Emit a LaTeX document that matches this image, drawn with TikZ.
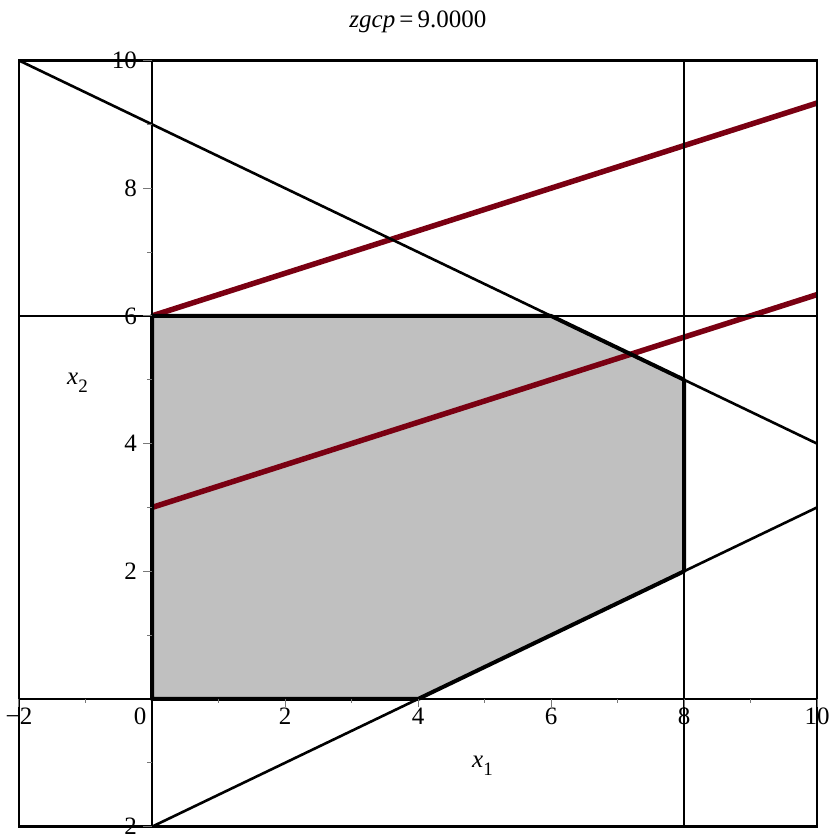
\documentclass[tikz,border=0pt]{standalone}
\usepackage{fontspec}
\setmainfont{Liberation Serif}
\definecolor{burg}{RGB}{122,0,18}
\definecolor{regfill}{RGB}{192,192,192}
\definecolor{tickgray}{RGB}{120,120,120}
\begin{document}
\begin{tikzpicture}[x=66.5pt,y=63.85pt,
  thinblack/.style={line width=2.6pt,black},
  redline/.style={line width=5.5pt,burg},
  tickmark/.style={line width=1pt,tickgray},
  lab/.style={font=\fontsize{25}{30}\selectfont,inner sep=0pt},
  sublab/.style={font=\fontsize{19}{22}\selectfont,inner sep=0pt}]
\useasboundingbox (-2.2857,-2.1613) rectangle (10.2857,10.9475);
% corners of the feasible region
\coordinate (A) at (0,0);
\coordinate (B) at (4,0);
\coordinate (C) at (8,2);
\coordinate (D) at (8,5);
\coordinate (E) at (6,6);
\coordinate (F) at (0,6);
\fill[regfill] (A)--(B)--(C)--(D)--(E)--(F)--cycle;
% objective lines
\draw[redline] (0,6)--(10,28/3);
\draw[redline] (0,3)--(10,19/3);
% constraint lines
\draw[thinblack] (-2,10)--(10,4);
\draw[thinblack] (0,-2)--(10,3);
\draw[thinblack] (-2,6)--(10,6);
\draw[thinblack] (8,-2)--(8,10);
% axes
\draw[thinblack] (-2,0)--(10,0);
\draw[thinblack] (0,-2)--(0,10);
% frame
\draw[thinblack] (-2,-2) rectangle (10,10);
% region boundary
\draw[line width=4pt,line join=round] (A)--(B)--(C)--(D)--(E)--(F)--cycle;
% ticks
\foreach \v in {-2,2,4,6,8,10} \draw[tickmark] (\v,0) -- ++(0,-8pt);
\foreach \v in {-1,1,3,5,7,9} \draw[tickmark] (\v,0) -- ++(0,-4pt);
\foreach \v in {-2,2,4,6,8,10} \draw[tickmark] (0,\v) -- ++(-9pt,0);
\foreach \v in {-1,1,3,5,7,9} \draw[tickmark] (0,\v) -- ++(-5pt,0);
% x tick labels
\node[lab,anchor=north] (xm2) at (-2,-0.14) {−2};
\node[lab,anchor=north] (x0) at (-0.18,-0.14) {0};
\foreach \v in {2,4,6,8,10} \node[lab,anchor=north] (x\v) at (\v,-0.14) {\v};
% y tick labels
\foreach \v in {2,4,6,8,10} \node[lab,anchor=east] (y\v) at (-0.2256,\v) {\v};
\node[lab,anchor=east] (ym2) at (-0.2256,-2) {−2};
% axis labels
\node[lab,anchor=base west] (xlab) at (4.812,-1.065) {\textit{x}\raisebox{-8pt}{\fontsize{19}{22}\selectfont 1}};
\node[lab,anchor=base west] (ylab) at (-1.278,4.918) {\textit{x}\raisebox{-8pt}{\fontsize{19}{22}\selectfont 2}};
% title
\node[lab,anchor=base] (title) at (4.0,10.509) {\textit{zgcp}\,=\,9.0000};
\end{tikzpicture}
\end{document}
